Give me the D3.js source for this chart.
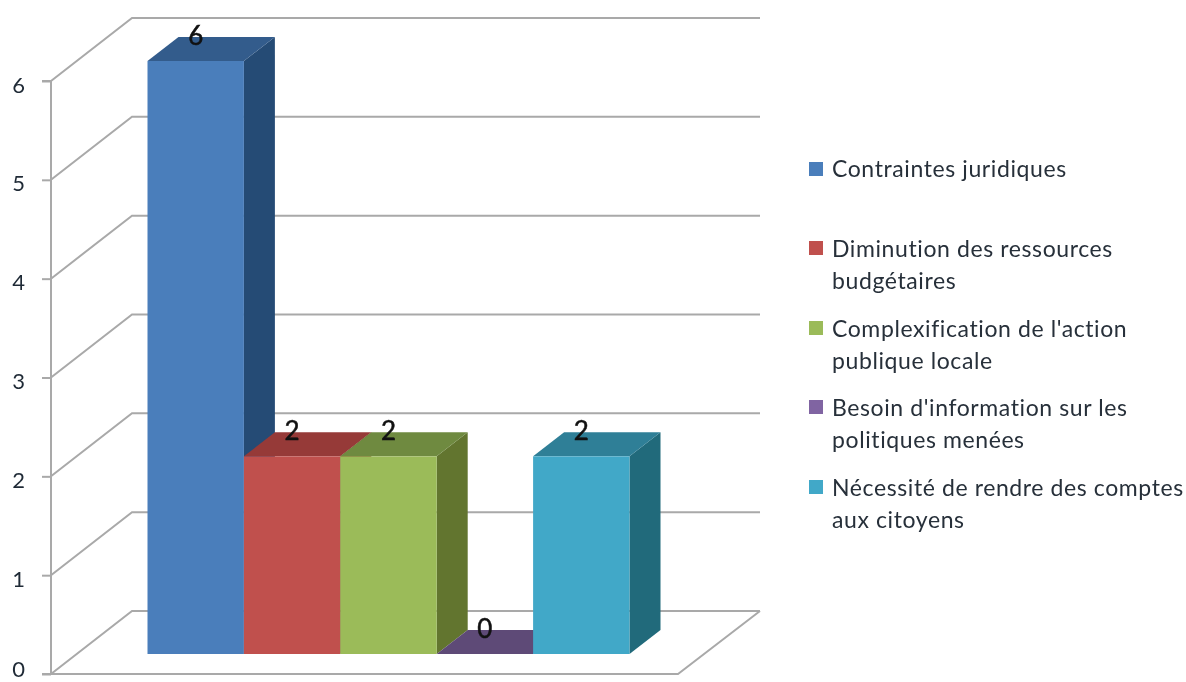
<!DOCTYPE html>
<html><head><meta charset="utf-8">
<script src="https://cdnjs.cloudflare.com/ajax/libs/d3/7.8.5/d3.min.js"></script>
<style>html,body{margin:0;background:#fff;overflow:hidden}svg{display:block;filter:blur(.6px)}text{font-family:Lato,"Open Sans",sans-serif}</style>
</head><body><svg id="c" width="1186" height="682"></svg>
<script>
const categories=["Contraintes juridiques","Diminution des ressources budgétaires","Complexification de l'action publique locale","Besoin d'information sur les politiques menées","Nécessité de rendre des comptes aux citoyens"];
const values=[6,2,2,0,2];
const legendLines=[["Contraintes juridiques"],["Diminution  des ressources","budgétaires"],["Complexification de l'action","publique locale"],["Besoin d'information  sur les","politiques menées"],["Nécessité de rendre des comptes","aux citoyens"]];
const frontColors=["#4a7ebb","#c0504d","#9bbb59","#8064a2","#41a8c8"];
const topColors=["#335c8c","#963a38","#6f8a40","#5e4a77","#2f7f97"];
const sideColors=["#254b75","#7d2f2d","#62752f","#4c3b61","#216a7b"];
const ticks=[0,1,2,3,4,5,6];

const svg=d3.select("#c");
const y=d3.scaleLinear().domain([0,6]).range([674,81]);
const x=d3.scaleBand().domain(categories).range([147.5,629.5]);
const wall={dx:81,dy:-63,right:760};
const bar={dx:31,dy:-24,lift:20};
const grid="#a9a9a9";

const g=svg.append("g").attr("fill","none").attr("stroke",grid).attr("stroke-width",2);
g.selectAll("path.grid").data(ticks).join("path").attr("class","grid")
 .attr("d",t=>`M${51},${y(t)}L${51+wall.dx},${y(t)+wall.dy}L${wall.right},${y(t)+wall.dy}`);
g.append("path").attr("d",`M${wall.right},${y(0)+wall.dy}L${wall.right-wall.dx-1},${y(0)}L51,${y(0)}`);

const ax=svg.append("g").attr("transform","translate(51,0)")
 .call(d3.axisLeft(y).tickValues(ticks).tickFormat(d3.format("d")).tickSize(9).tickPadding(17));
ax.selectAll("path,line").attr("stroke",grid).attr("stroke-width",2);
ax.select(".domain").attr("d",`M-9,${y(6)}H0V${y(0)}H-9`);
ax.selectAll("text").attr("font-size",22).attr("fill","#1f2a36").attr("font-family","Lato")
 .attr("dy",t=>t===0?"0.12em":"0.5em");

const bars=svg.append("g").selectAll("g").data(categories).join("g");
const X0=d=>x(d), X1=d=>x(d)+x.bandwidth();
const B=()=>y(0)-bar.lift;
const T=(d,i)=>y(values[i])-bar.lift;
bars.append("path").attr("fill",(d,i)=>sideColors[i])
 .attr("d",(d,i)=>`M${X1(d)},${T(d,i)}l${bar.dx},${bar.dy}V${B()+bar.dy}L${X1(d)},${B()}Z`);
bars.append("path").attr("fill",(d,i)=>topColors[i])
 .attr("d",(d,i)=>`M${X0(d)},${T(d,i)}l${bar.dx},${bar.dy}H${X1(d)+bar.dx}L${X1(d)},${T(d,i)}Z`);
bars.append("rect").attr("fill",(d,i)=>frontColors[i])
 .attr("x",X0).attr("width",x.bandwidth()).attr("y",T).attr("height",(d,i)=>B()-T(d,i));
bars.append("text").text((d,i)=>values[i]).attr("text-anchor","middle").attr("font-size",26).attr("fill","#111")
 .attr("stroke","#111").attr("stroke-width",.5)
 .attr("x",d=>x(d)+x.bandwidth()/2).attr("y",(d,i)=>T(d,i)-16);

const rowY=[170,250,330,409,489];
const lg=svg.append("g").selectAll("g").data(categories).join("g");
lg.append("rect").attr("x",809).attr("width",14).attr("height",14).attr("fill",(d,i)=>frontColors[i])
 .attr("y",(d,i)=>rowY[i]-8-(i?1:0));
lg.each(function(d,i){
 d3.select(this).selectAll("text").data(legendLines[i]).join("text").text(t=>t)
  .attr("x",832).attr("y",(t,j)=>rowY[i]+7+j*32).attr("font-size",23).attr("letter-spacing",.6).attr("fill","#27303a");
});
</script></body></html>
